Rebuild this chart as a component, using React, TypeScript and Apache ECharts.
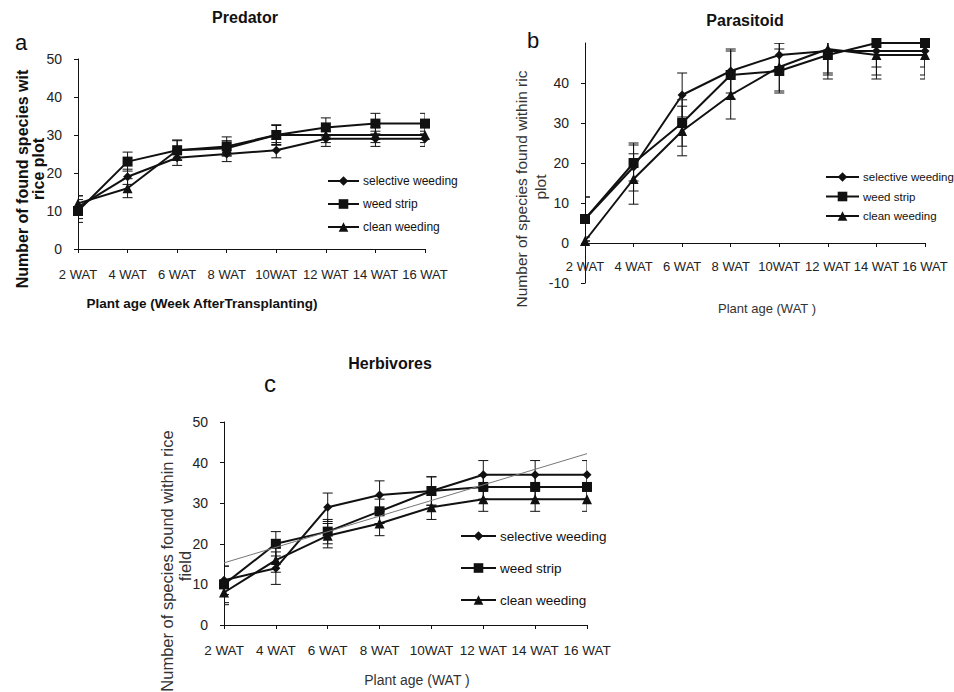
import React, { useEffect, useRef } from 'react';
import * as echarts from 'echarts';

const categories = ['2 WAT', '4 WAT', '6 WAT', '8 WAT', '10WAT', '12 WAT', '14 WAT', '16 WAT'];
const seriesNames = ['selective weeding', 'weed strip', 'clean weeding'];

// Panel a – Predator
const predSelective = [11, 19, 24, 25, 26, 29, 29, 29];
const predSelectiveErr = [3, 2, 2, 2, 2, 2, 2, 2];
const predWeedStrip = [10, 23, 26, 27, 30, 32, 33, 33];
const predWeedStripErr = [3, 2.5, 2.7, 2.5, 2.7, 2.5, 2.7, 2.7];
const predClean = [12, 16, 26, 26.5, 30, 30, 30, 30];
const predCleanErr = [2, 2.5, 2.5, 2, 2.5, 2, 2, 2];

// Panel b – Parasitoid
const paraSelective = [6, 19, 37, 43, 47, 48, 48, 48];
const paraSelectiveErr = [5.5, 6, 5.5, 5.5, 3, 6, 6, 6];
const paraWeedStrip = [6, 20, 30, 42, 43, 47, 50, 50];
const paraWeedStripErr = [5.5, 4.5, 5.8, 6, 5.5, 6, 6, 6];
const paraClean = [0.5, 16, 28, 37, 44, 48.5, 47, 47];
const paraCleanErr = [1, 6.3, 6.2, 6, 6, 6, 6, 6];

// Panel c – Herbivores
const herbSelective = [11, 14, 29, 32, 33, 37, 37, 37];
const herbSelectiveErr = [3.5, 4, 3.5, 3.5, 3.5, 3.5, 3.5, 3.5];
const herbWeedStrip = [10, 20, 23, 28, 33, 34, 34, 34];
const herbWeedStripErr = [4.5, 3, 3, 3, 3.5, 3, 3, 3];
const herbClean = [8, 16, 22, 25, 29, 31, 31, 31];
const herbCleanErr = [3, 3, 3, 3, 3, 3, 3, 3];
const herbTrend = [15.3, null, null, null, null, null, null, 42.2];

const FONT = 'Liberation Sans';
const INK = '#111';

const symbols = ['diamond', 'rect', 'triangle'];
const symbolSizes = [9, 10, 10];

function lineSeries(grid: number, idx: number, data: number[]) {
  return {
    type: 'line',
    name: seriesNames[idx],
    xAxisIndex: grid,
    yAxisIndex: grid,
    data,
    symbol: symbols[idx],
    symbolSize: symbolSizes[idx],
    showAllSymbol: true,
    lineStyle: { color: INK, width: 2 },
    itemStyle: { color: INK },
    z: 3,
    silent: true,
  };
}

function errorSeries(grid: number, values: number[], errs: number[]) {
  return {
    type: 'custom',
    xAxisIndex: grid,
    yAxisIndex: grid,
    clip: true,
    silent: true,
    z: 2,
    data: values.map((v, i) => [i, v - errs[i], v + errs[i]]),
    encode: { x: 0, y: [1, 2] },
    renderItem: (_params: any, api: any) => {
      const x = api.value(0);
      const lo = api.coord([x, api.value(1)]);
      const hi = api.coord([x, api.value(2)]);
      const w = 5;
      const st = { stroke: INK, lineWidth: 1 };
      return {
        type: 'group',
        children: [
          { type: 'line', shape: { x1: lo[0], y1: lo[1], x2: hi[0], y2: hi[1] }, style: st },
          { type: 'line', shape: { x1: lo[0] - w, y1: lo[1], x2: lo[0] + w, y2: lo[1] }, style: st },
          { type: 'line', shape: { x1: hi[0] - w, y1: hi[1], x2: hi[0] + w, y2: hi[1] }, style: st },
        ],
      };
    },
  };
}

function xAxis(grid: number, fontSize: number, margin: number, show = true) {
  return {
    type: 'category',
    gridIndex: grid,
    data: categories,
    boundaryGap: false,
    show,
    axisLine: { show: true, onZero: false, lineStyle: { color: INK, width: 1 } },
    axisTick: { show: true, length: 4, lineStyle: { color: INK } },
    axisLabel: { interval: 0, fontSize, margin, color: '#222', fontFamily: FONT },
    splitLine: { show: false },
  };
}

function yAxis(grid: number, min: number, max: number, fontSize: number, showMax: boolean, show = true) {
  return {
    type: 'value',
    gridIndex: grid,
    min,
    max,
    interval: 10,
    show,
    axisLine: { show: true, onZero: false, lineStyle: { color: INK, width: 1 } },
    axisTick: { show: true, length: 4, lineStyle: { color: INK } },
    axisLabel: { fontSize, margin: 16, color: '#222', fontFamily: FONT, showMaxLabel: showMax },
    splitLine: { show: false },
  };
}

function txt(text: string, x: number, y: number, size: number, weight: string, rotate = 0, color = INK) {
  return {
    type: 'text',
    x,
    y,
    rotation: rotate,
    silent: true,
    style: {
      text,
      fontSize: size,
      fontWeight: weight,
      fontFamily: FONT,
      fill: color,
      textAlign: 'center',
      textVerticalAlign: 'middle',
    },
  };
}

function legend(left: number, top: number, itemWidth: number, gap: number, fontSize: number) {
  return {
    data: seriesNames,
    orient: 'vertical',
    left,
    top,
    itemWidth,
    itemHeight: 12,
    itemGap: gap,
    selectedMode: false,
    textStyle: { fontSize, color: INK, fontFamily: FONT, padding: [0, 0, 0, -1] },
  };
}

export default function App() {
  const ref = useRef<HTMLDivElement>(null);
  useEffect(() => {
    if (!ref.current) return;
    const chart = echarts.init(ref.current, undefined, { renderer: 'svg' });
    const R = Math.PI / 2;
    chart.setOption({
      animation: false,
      backgroundColor: '#fff',
      grid: [
        { left: 78, top: 59, width: 347, height: 190 },
        { left: 585, top: 43, width: 340, height: 240 },
        { left: 224, top: 422, width: 363, height: 203 },
        // category axis of panel b, drawn at the value 0 line
        { left: 585, top: 43, width: 340, height: 200 },
      ],
      xAxis: [xAxis(0, 13, 19), xAxis(1, 13, 17, false), xAxis(2, 13.5, 18), xAxis(3, 13, 17)],
      yAxis: [
        yAxis(0, 0, 50, 14, true),
        yAxis(1, -10, 50, 14, false),
        yAxis(2, 0, 50, 14, true),
        yAxis(3, 0, 50, 14, true, false),
      ],
      legend: [
        legend(322, 170, 31, 11, 12),
        legend(820, 166, 33, 7.5, 11.5),
        legend(455, 524, 35, 18, 13.5),
      ],
      series: [
        errorSeries(0, predSelective, predSelectiveErr),
        errorSeries(0, predWeedStrip, predWeedStripErr),
        errorSeries(0, predClean, predCleanErr),
        lineSeries(0, 0, predSelective),
        lineSeries(0, 1, predWeedStrip),
        lineSeries(0, 2, predClean),
        errorSeries(1, paraSelective, paraSelectiveErr),
        errorSeries(1, paraWeedStrip, paraWeedStripErr),
        errorSeries(1, paraClean, paraCleanErr),
        lineSeries(1, 0, paraSelective),
        lineSeries(1, 1, paraWeedStrip),
        lineSeries(1, 2, paraClean),
        errorSeries(2, herbSelective, herbSelectiveErr),
        errorSeries(2, herbWeedStrip, herbWeedStripErr),
        errorSeries(2, herbClean, herbCleanErr),
        {
          type: 'line',
          name: 'trend',
          xAxisIndex: 2,
          yAxisIndex: 2,
          data: herbTrend,
          connectNulls: true,
          symbol: 'none',
          lineStyle: { color: '#777', width: 1 },
          z: 4,
          silent: true,
        },
        lineSeries(2, 0, herbSelective),
        lineSeries(2, 1, herbWeedStrip),
        lineSeries(2, 2, herbClean),
      ],
      graphic: [
        txt('Predator', 245, 17, 16, 'bold'),
        txt('a', 21, 42, 22, 'normal'),
        txt('Parasitoid', 745, 20, 16, 'bold'),
        txt('b', 533, 40, 22, 'normal'),
        txt('Herbivores', 390, 363, 16, 'bold'),
        txt('c', 270, 383, 24, 'normal'),
        txt('Number of found species wit', 22, 179, 16, 'bold', R),
        txt('rice plot', 38, 169, 16, 'bold', R),
        txt('Plant age (Week AfterTransplanting)', 202, 303, 13.5, 'bold'),
        txt('Number of species found within ric', 521, 189, 15.5, 'normal', R, '#333'),
        txt('plot', 540, 187, 15.5, 'normal', R, '#333'),
        txt('Plant age (WAT )', 767, 308, 13, 'normal', 0, '#333'),
        txt('Number of species found within rice', 167, 561, 16.5, 'normal', R, '#333'),
        txt('field', 185, 566, 16.5, 'normal', R, '#333'),
        txt('Plant age (WAT )', 417, 680, 14, 'normal', 0, '#333'),
      ],
    });
    return () => chart.dispose();
  }, []);
  return (
    <div
      ref={ref}
      style={{ position: 'fixed', left: 0, top: 0, width: 954, height: 692, background: '#fff' }}
    />
  );
}
